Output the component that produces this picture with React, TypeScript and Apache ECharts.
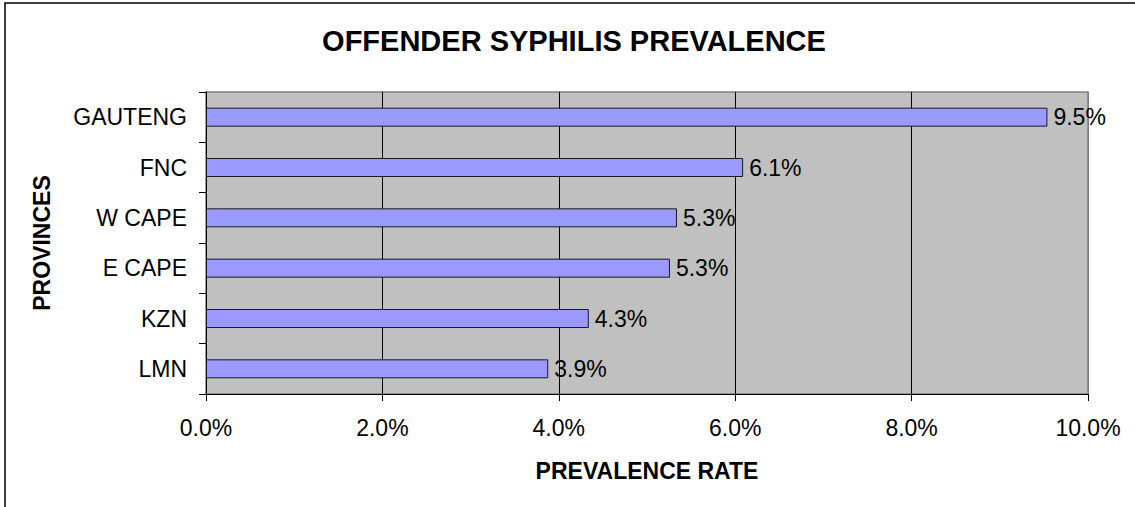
import React, { useEffect, useRef } from "react";
import * as echarts from "echarts";

const categories = ["GAUTENG", "FNC", "W CAPE", "E CAPE", "KZN", "LMN"];
const prevalence = [0.0954, 0.0609, 0.0534, 0.0526, 0.0434, 0.0388];
const xTicks = { min: 0, max: 0.1, interval: 0.02 };
const titleText = "OFFENDER SYPHILIS PREVALENCE";
const xName = "PREVALENCE RATE";
const yName = "PROVINCES";

const FONT = "'Liberation Sans', Arial, sans-serif";
const pct = (v: number) => (v * 100).toFixed(1) + "%";

export default function App() {
  const ref = useRef<HTMLDivElement>(null);
  useEffect(() => {
    document.body.style.margin = "0";
    if (!ref.current) return;
    const chart = echarts.init(ref.current, null, { renderer: "svg" });
    chart.setOption({
      animation: false,
      backgroundColor: "#ffffff",
      textStyle: { fontFamily: FONT, color: "#000" },
      title: {
        text: titleText,
        left: 574,
        top: 26,
        padding: 0,
        textAlign: "center",
        textStyle: { fontFamily: FONT, fontSize: 29, fontWeight: "bold", color: "#000" },
      },
      graphic: [
        {
          type: "rect",
          shape: { x: 5, y: 3, width: 1300, height: 700 },
          style: { fill: "none", stroke: "#000", lineWidth: 1.5 },
          silent: true,
          z: 100,
        },
      ],
      grid: {
        left: 206,
        top: 92,
        right: 47,
        bottom: 113,
        show: true,
        backgroundColor: "#C0C0C0",
        borderColor: "#808080",
        borderWidth: 1.5,
      },
      xAxis: {
        type: "value",
        min: xTicks.min,
        max: xTicks.max,
        interval: xTicks.interval,
        name: xName,
        nameLocation: "middle",
        nameGap: 65,
        nameTextStyle: { fontFamily: FONT, fontSize: 23, fontWeight: "bold", color: "#000" },
        axisLine: { show: true, lineStyle: { color: "#000", width: 1 } },
        axisTick: { show: true, length: 7, lineStyle: { color: "#000" } },
        axisLabel: {
          formatter: (v: number) => pct(v),
          fontFamily: FONT,
          fontSize: 23,
          color: "#000",
          margin: 22,
        },
        splitLine: {
          show: true,
          lineStyle: { color: ["#000", "#000", "#000", "#000", "#000", "#808080"], width: 1 },
        },
      },
      yAxis: {
        type: "category",
        data: categories,
        inverse: true,
        name: yName,
        nameLocation: "middle",
        nameGap: 153,
        nameTextStyle: { fontFamily: FONT, fontSize: 23, fontWeight: "bold", color: "#000" },
        axisLine: { show: true, lineStyle: { color: "#000", width: 1 } },
        axisTick: { show: true, length: 7, lineStyle: { color: "#000" } },
        axisLabel: { fontFamily: FONT, fontSize: 23, color: "#000", margin: 19 },
        splitLine: { show: false },
      },
      series: [
        {
          type: "bar",
          data: prevalence,
          barWidth: 19,
          itemStyle: { color: "#9999FF", borderColor: "#1a1a1a", borderWidth: 1 },
          label: {
            show: true,
            position: "right",
            distance: 6,
            formatter: (p: any) => pct(p.value),
            fontFamily: FONT,
            fontSize: 23,
            color: "#000",
          },
        },
      ],
    });
    return () => chart.dispose();
  }, []);
  return <div ref={ref} style={{ width: 1135, height: 507 }} />;
}
